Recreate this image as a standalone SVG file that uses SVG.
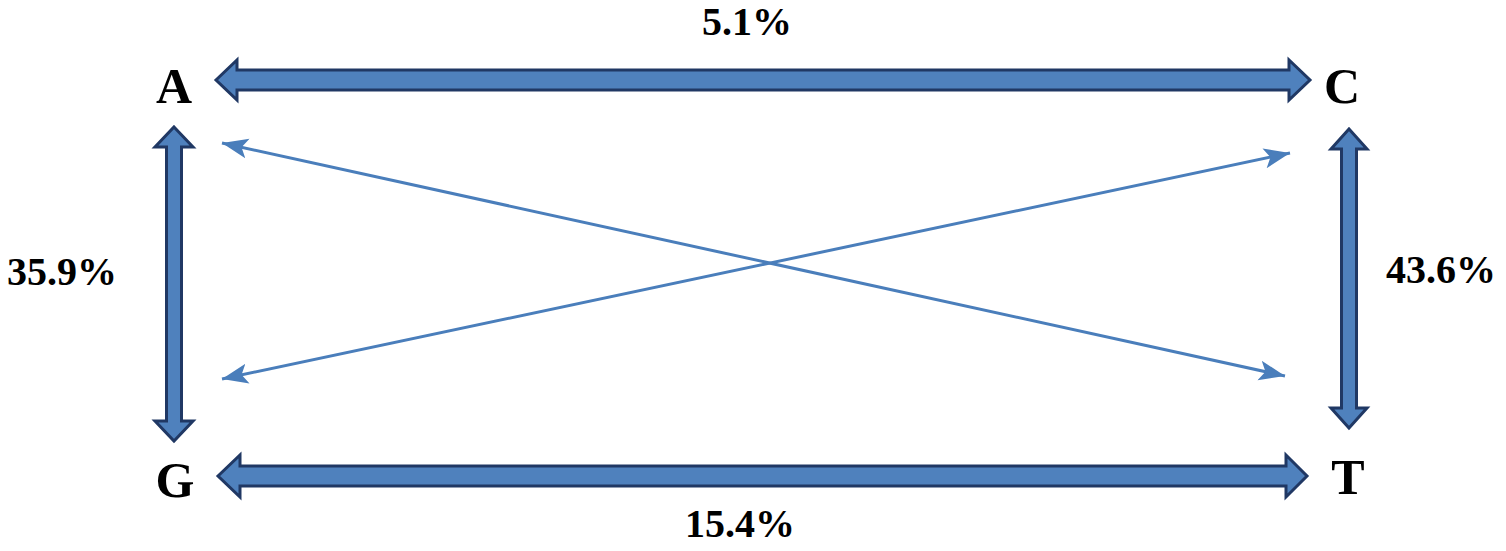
<svg xmlns="http://www.w3.org/2000/svg" width="1506" height="551" viewBox="0 0 1506 551">
<style>
.lbl{font-family:"Liberation Serif","Times New Roman",serif;font-weight:bold;fill:#000;text-anchor:middle}
.node{font-size:50px}
.pct{font-size:40px}
.block{fill:#4F81BD;stroke:#203864;stroke-width:3;stroke-linejoin:miter}
.thin{stroke:#4A7EBB;stroke-width:3;fill:none}
</style>
<defs>
<marker id="ah" markerUnits="userSpaceOnUse" markerWidth="30" markerHeight="24" viewBox="0 0 30 24" refX="26" refY="12" orient="auto-start-reverse">
<path d="M0,2 L26,12 L0,22 L6,12 z" fill="#4A7EBB"/>
</marker>
</defs>
<rect width="1506" height="551" fill="#fff"/>
<g id="connectors">
<polygon class="block" points="216,80 237,60 237,70 1289,70 1289,60 1310,80 1289,100 1289,90 237,90 237,100"/>
<polygon class="block" points="218,476 240,455 240,466 1286,466 1286,455 1307,476 1286,497 1286,486 240,486 240,497"/>
<polygon class="block" points="174,127 193,147 181.5,147 181.5,421 193,421 174,441 155,421 166.5,421 166.5,147 155,147"/>
<polygon class="block" points="1349,129 1367,149 1356.5,149 1356.5,408 1367,408 1349,428 1331,408 1341.5,408 1341.5,149 1331,149"/>
<line class="thin" x1="222" y1="143" x2="1285" y2="376" marker-start="url(#ah)" marker-end="url(#ah)"/>
<line class="thin" x1="222" y1="379" x2="1290" y2="153" marker-start="url(#ah)" marker-end="url(#ah)"/>
<text class="lbl pct" x="747" y="35">5.1%</text>
<text class="lbl pct" x="62" y="285">35.9%</text>
<text class="lbl pct" x="1441" y="283">43.6%</text>
<text class="lbl pct" x="740" y="537">15.4%</text>
</g>
<g id="node-A"><text class="lbl node" x="174" y="103">A</text></g>
<g id="node-C"><text class="lbl node" x="1342" y="103">C</text></g>
<g id="node-G"><text class="lbl node" x="175" y="497">G</text></g>
<g id="node-T"><text class="lbl node" x="1348" y="494">T</text></g>
</svg>
